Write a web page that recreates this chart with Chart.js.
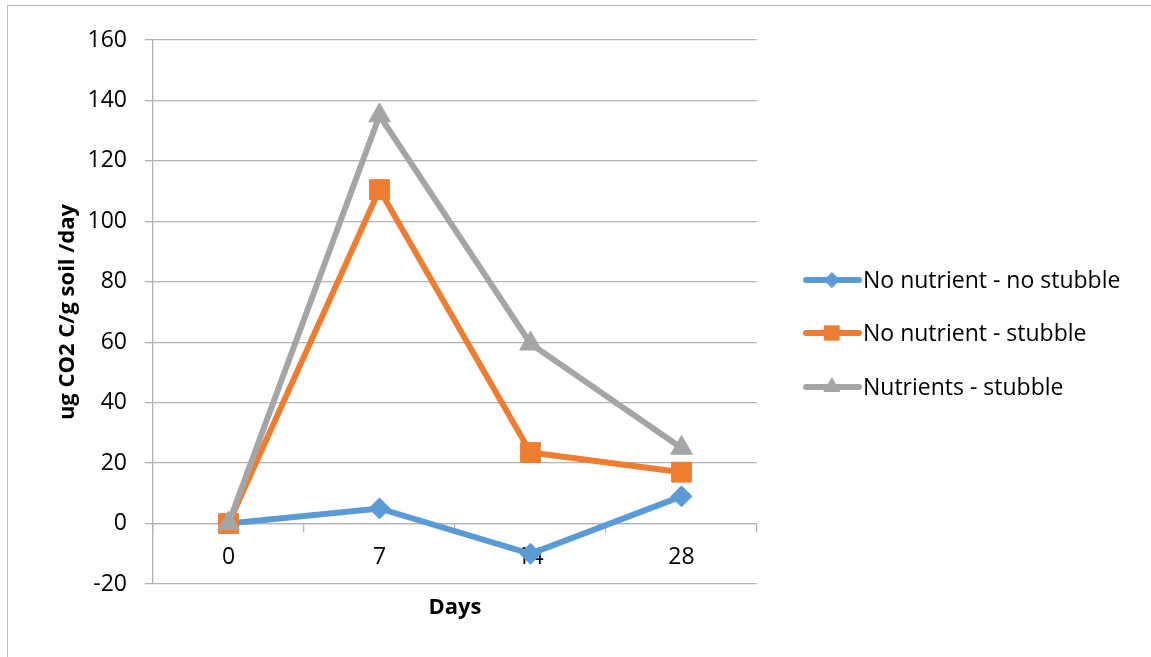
<!DOCTYPE html>
<html lang="en">
<head>
  <meta charset="UTF-8" />
  <script src="https://cdn.jsdelivr.net/npm/chart.js"></script>
  <title>Soil respiration</title>
  <style>
    html, body { margin: 0; padding: 0; background: #fff; }
    #wrap { position: relative; width: 1151px; height: 657px; overflow: hidden; }
    #frame { position: absolute; left: 7px; top: 5px; width: 1300px; height: 800px; border: 1.5px solid #b9b9b9; }
    canvas { position: absolute; left: 0; top: 0; }
  </style>
</head>
<body>
  <div id="wrap">
    <div id="frame"></div>
    <canvas id="co2Chart" width="1151" height="657"></canvas>
  </div>

  <script>
    // data
    const days = ['0', '7', '14', '28'];
    const noNutrientNoStubble = [0, 5, -10, 9];
    const noNutrientStubble = [0, 110.5, 23.5, 17];
    const nutrientsStubble = [0, 135, 59.5, 25];
    const yTicks = { min: -20, max: 160, step: 20 };

    const gridColor = '#b3b3b3';
    const fontFamily = '"Open Sans", sans-serif';

    // legend drawn by hand: line + marker, like the spreadsheet one
    const sideLegend = {
      id: 'sideLegend',
      afterDraw(chart) {
        const ctx = chart.ctx;
        const rows = [280, 333, 387];
        chart.data.datasets.forEach((ds, i) => {
          const y = rows[i];
          ctx.save();
          ctx.strokeStyle = ds.borderColor;
          ctx.lineWidth = ds.borderWidth;
          ctx.lineCap = 'round';
          ctx.beginPath();
          ctx.moveTo(806, y);
          ctx.lineTo(859, y);
          ctx.stroke();
          ctx.fillStyle = ds.pointBackgroundColor;
          ctx.strokeStyle = ds.pointBorderColor;
          ctx.lineWidth = 1;
          Chart.helpers.drawPoint(ctx, {
            pointStyle: ds.pointStyle,
            radius: ds.pointRadius * 0.72,
            borderWidth: 1
          }, 832, y);
          ctx.fillStyle = '#000';
          ctx.font = '23px ' + fontFamily;
          ctx.textAlign = 'left';
          ctx.textBaseline = 'middle';
          ctx.fillText(ds.label, 863, y + 1);
          ctx.restore();
        });
      }
    };

    function series(label, data, color, style, radius, order) {
      return {
        label: label,
        data: data,
        order: order,
        borderColor: color,
        backgroundColor: color,
        borderWidth: 6,
        pointStyle: style,
        pointRadius: radius,
        pointHoverRadius: radius,
        pointBackgroundColor: color,
        pointBorderColor: color,
        pointBorderWidth: 1,
        tension: 0
      };
    }

    new Chart(document.getElementById('co2Chart'), {
      type: 'line',
      data: {
        labels: days,
        datasets: [
          series('No nutrient - no stubble', noNutrientNoStubble, '#5b9bd5', 'rectRot', 10.5, 3),
          series('No nutrient - stubble', noNutrientStubble, '#ed7d31', 'rect', 14, 2),
          series('Nutrients - stubble', nutrientsStubble, '#a5a5a5', 'triangle', 12.5, 1)
        ]
      },
      options: {
        responsive: false,
        animation: false,
        layout: { padding: { top: 40, right: 394, left: 0, bottom: 0 } },
        plugins: {
          legend: { display: false },
          tooltip: { enabled: false }
        },
        scales: {
          x: {
            type: 'category',
            position: { y: 0 },
            offset: true,
            grid: { offset: true, drawOnChartArea: false, tickLength: 8, color: gridColor, lineWidth: 1.3 },
            border: { color: gridColor, width: 1.3 },
            ticks: { color: '#000', padding: 12, font: { family: fontFamily, size: 23 } }
          },
          x2: {
            type: 'category',
            position: 'bottom',
            labels: days,
            grid: { display: false },
            border: { display: false },
            ticks: { display: false },
            title: {
              display: true,
              text: 'Days',
              color: '#000',
              font: { family: fontFamily, size: 22, weight: 'bold' },
              padding: { top: 0, bottom: 36 }
            },
            afterFit(scale) { scale.height = 73; }
          },
          y: {
            min: yTicks.min,
            max: yTicks.max,
            ticks: {
              stepSize: yTicks.step,
              color: '#000',
              padding: 18,
              font: { family: fontFamily, size: 23 }
            },
            grid: { color: gridColor, lineWidth: 1.3, tickLength: 8 },
            border: { color: gridColor, width: 1.3 },
            title: {
              display: true,
              text: 'ug CO2 C/g soil /day',
              color: '#000',
              font: { family: fontFamily, size: 22, weight: 'bold' },
              padding: { top: 55, bottom: 0 }
            },
            afterFit(scale) { scale.width = 153; }
          }
        }
      },
      plugins: [sideLegend]
    });
  </script>
</body>
</html>
